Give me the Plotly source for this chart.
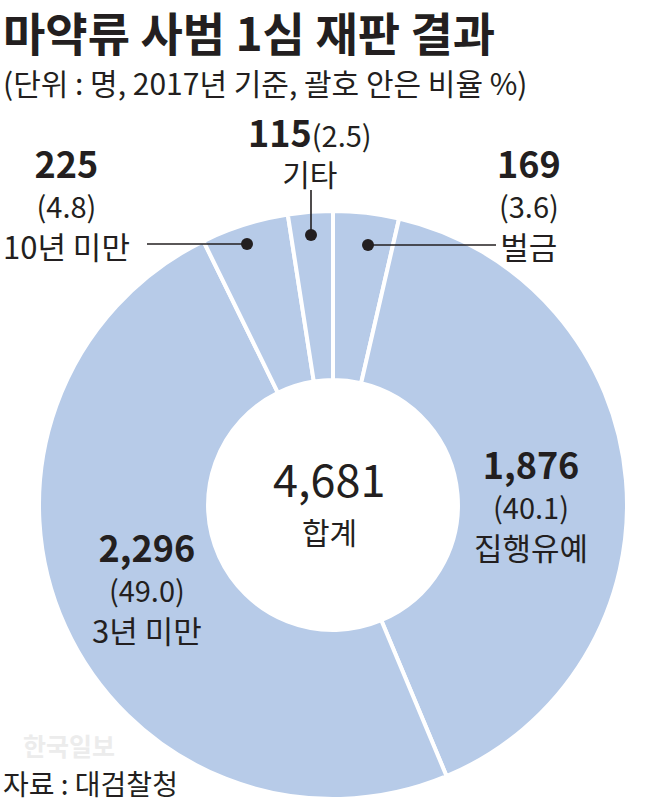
import plotly.graph_objects as go

# Data (clockwise from 12 o'clock)
categories = ["벌금", "집행유예", "3년 미만", "10년 미만", "기타"]
counts = [169, 1876, 2296, 225, 115]
shares = [3.6, 40.1, 49.0, 4.8, 2.5]
total = 4681

W, H = 665, 804
FONT = "Noto Sans CJK KR"
BLUE = "#b7cbe8"
TXT = "#231f20"

cx, cy, R = 333, 505, 294

def px(x):
    return x / W

def py(y):
    return 1 - y / H

fig = go.Figure()
fig.add_trace(go.Pie(
    labels=categories, values=counts, sort=False, direction="clockwise",
    rotation=0, hole=0.425, textinfo="none", hoverinfo="label+value",
    marker=dict(colors=[BLUE] * len(counts), line=dict(color="white", width=4)),
    domain=dict(x=[px(cx - R), px(cx + R)], y=[py(cy + R), py(cy - R)]),
    showlegend=False,
))

ann = []

def t(x, y, text, size, bold=False, color=TXT, xanchor="center", yanchor="middle", align="center"):
    ann.append(dict(x=px(x), y=py(y), xref="paper", yref="paper", text=(f"<b>{text}</b>" if bold else text),
                    showarrow=False, xanchor=xanchor, yanchor=yanchor, align=align, borderpad=0,
                    font=dict(family=FONT, size=size, color=color)))

fmt = lambda v: f"{v:,}"

NUM, PCT, LAB = 36, 29, 31

def stack(x, y, i):
    txt = (f"<b><span style='font-size:{NUM}px'>{fmt(counts[i])}</span></b><br>"
           f"<span style='font-size:{PCT}px'>({shares[i]})</span><br>{categories[i]}")
    t(x, y, txt, LAB)

# Title and subtitle (one block)
t(2, 51, "<b><span style='font-size:46px'>마약류 사범 1심 재판 결과</span></b><br>"
         "<span style='font-size:30px'>(단위 : 명, 2017년 기준, 괄호 안은 비율 %)</span>",
  34, xanchor="left", yanchor="middle", align="left")

# 기타 (top)
t(310, 150, f"<b><span style='font-size:{NUM}px'>{fmt(counts[4])}</span></b>"
            f"<span style='font-size:{PCT}px'>({shares[4]})</span><br>{categories[4]}", 30)

stack(66, 202, 3)    # 10년 미만
stack(529, 202, 0)   # 벌금
stack(531, 503, 1)   # 집행유예
stack(147, 586, 2)   # 3년 미만

# Center
t(cx - 4, 477, fmt(total), 45)
t(cx - 4, 531, "합계", 30)

# Source and watermark
t(22, 745, "<b>한국일보</b>", 25, color="#ececec", xanchor="left")
t(2, 783, "자료 : 대검찰청", 28, xanchor="left")

fig.update_layout(annotations=ann)

# Leader lines and dots
shapes = []
def line(x0, y0, x1, y1):
    shapes.append(dict(type="line", xref="paper", yref="paper", x0=px(x0), y0=py(y0), x1=px(x1), y1=py(y1),
                       line=dict(color=TXT, width=1.6)))
def dot(x, y, r=6):
    shapes.append(dict(type="circle", xref="paper", yref="paper", x0=px(x - r), y0=py(y + r), x1=px(x + r), y1=py(y - r),
                       fillcolor=TXT, line=dict(color=TXT, width=0)))

line(311, 190, 311, 235); dot(311, 235)
line(147, 244, 247, 244); dot(247, 244)
line(368, 245, 496, 245); dot(368, 245)

fig.update_layout(shapes=shapes, width=W, height=H, margin=dict(l=0, r=0, t=0, b=0),
                  paper_bgcolor="white", plot_bgcolor="white")

fig.write_html("out.html")
